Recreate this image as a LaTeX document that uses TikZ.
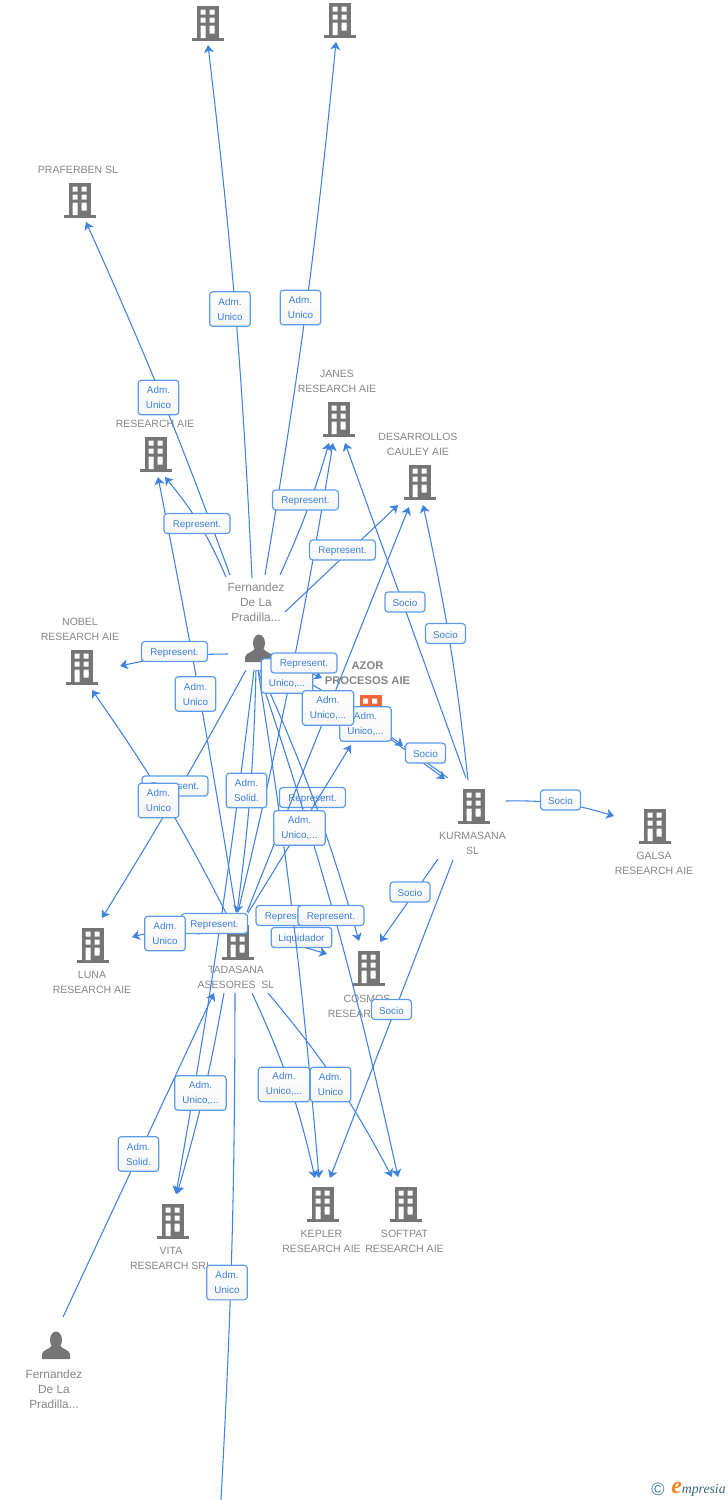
\documentclass[tikz,border=0pt]{standalone}
\usepackage{fontspec}
\setmainfont{Liberation Sans}
\newfontfamily\logofont{Liberation Serif}
\usetikzlibrary{arrows.meta}
\definecolor{linkblue}{HTML}{3F82E0}
\definecolor{boxedge}{HTML}{5B9BE8}
\definecolor{boxtext}{HTML}{3B7FDC}
\definecolor{bldgray}{HTML}{757575}
\definecolor{azororange}{HTML}{F4663A}
\definecolor{labelgray}{HTML}{858585}
\definecolor{logoblue}{HTML}{3F7F9B}
\definecolor{logoorange}{HTML}{F08A1D}
\tikzset{
  link/.style={draw=linkblue,line width=0.8pt,-{Stealth[length=5.8pt,width=7.5pt,inset=1.6pt]}},
  bare/.style={draw=linkblue,line width=0.8pt},
  tag/.style={draw=boxedge,line width=0.9pt,rounded corners=2.4pt,top color=white,bottom color=black!4,
    text=boxtext,inner sep=0pt,align=center,execute at begin node={\rule{0pt}{7pt}},font=\fontsize{7.4}{11.25}\selectfont},
  repbox/.style={tag,minimum width=49.5pt,minimum height=15pt},
  sociobox/.style={tag,minimum width=30pt,minimum height=15pt},
  liqbox/.style={tag,minimum width=45.5pt,minimum height=15pt},
  admbox/.style={tag,minimum width=30.5pt,minimum height=26pt},
  unibox/.style={tag,minimum width=38.5pt,minimum height=26pt},
  entname/.style={text=labelgray,inner sep=0pt,align=center,yshift=-0.75pt,font=\fontsize{7.9}{11.25}\selectfont},
  manname/.style={entname,font=\fontsize{8.9}{11.25}\selectfont},
  pics/bldg/.style={code={
    \fill[#1] (-11,-16) rectangle (11,16);
    \fill[#1] (-16,16) rectangle (16,18.5);
    \fill[white] (-7.5,-12.3) rectangle (-2.5,-7.3) (1.5,-12.3) rectangle (6.5,-7.3);
    \fill[white] (-7.5,-4.3) rectangle (-2.5,0.7) (1.5,-4.3) rectangle (6.5,0.7);
    \fill[white] (-7.5,3.5) rectangle (-2.5,8.5) (1.5,3.5) rectangle (6.5,8.5);
    \fill[white] (-7.5,7.7) rectangle (-2.5,16) (1.5,6.7) rectangle (6.5,11.7);
  }},
  pics/manicon/.style={code={
    \fill[bldgray] (0,-6) ellipse (6 and 8.5);
    \fill[bldgray] (-14,13) -- (-14,8) .. controls (-13,3) and (-6,4) .. (-4,-1) -- (4,-1)
      .. controls (6,4) and (13,3) .. (14,8) -- (14,13) -- cycle;
  }}
}
\begin{document}
\begin{tikzpicture}[x=0.75pt,y=-0.75pt]
  \useasboundingbox (0,0) rectangle (728,1500);

  \path (208,22) pic {bldg=bldgray};
  \path (340,19) pic {bldg=bldgray};
  \path (80,199) pic {bldg=bldgray};
  \path (156,453) pic {bldg=bldgray};
  \path (339,418) pic {bldg=bldgray};
  \path (420,481) pic {bldg=bldgray};
  \path (82,666) pic {bldg=bldgray};
  \path (370.5,711) pic {bldg=azororange};
  \path (474,805) pic {bldg=bldgray};
  \path (655,825) pic {bldg=bldgray};
  \path (93,944) pic {bldg=bldgray};
  \path (238,941) pic {bldg=bldgray};
  \path (369,967) pic {bldg=bldgray};
  \path (323,1203) pic {bldg=bldgray};
  \path (406,1203) pic {bldg=bldgray};
  \path (173,1220) pic {bldg=bldgray};
  \path (259,649) pic {manicon};
  \path (56,1346) pic {manicon};

  \node[entname] (praferben) at (78,169) {PRAFERBEN SL};
  \node[entname] (research) at (155,423) {RESEARCH AIE};
  \node[entname] (janes) at (337,380.5) {JANES\\RESEARCH AIE};
  \node[entname] (desarrollos) at (418,443.5) {DESARROLLOS\\CAULEY AIE};
  \node[entname] (nobel) at (80,628.5) {NOBEL\\RESEARCH AIE};
  \node[entname,font=\fontsize{8.4}{11.25}\selectfont\bfseries] (azor) at (367.5,672.5) {AZOR\\PROCESOS AIE};
  \node[entname] (kurmasana) at (472.5,842.5) {KURMASANA\\SL};
  \node[entname] (galsa) at (654,862.5) {GALSA\\RESEARCH AIE};
  \node[manname] (fernandeza) at (256,601) {Fernandez\\De La\\Pradilla...};
  \node[entname] (luna) at (92,981.5) {LUNA\\RESEARCH AIE};
  \node[entname] (tadasana) at (236,976.5) {TADASANA\\ASESORES\ \ SL};
  \node[entname] (cosmos) at (367,1005.5) {COSMOS\\RESEARCH AIE};
  \node[entname] (kepler) at (321.5,1240.5) {KEPLER\\RESEARCH AIE};
  \node[entname] (softpat) at (404.5,1240.5) {SOFTPAT\\RESEARCH AIE};
  \node[entname] (vita) at (171,1257.5) {VITA\\RESEARCH SRL};
  \node[manname] (fernandezb) at (54,1388) {Fernandez\\De La\\Pradilla...};

  \coordinate (tcos) at (280,940); \coordinate (ycos) at (327,954);
  \draw[link] (tcos) -- (ycos);
  \node[liqbox] (liqa) at (301.5,937.5) {Liquidador};
  \node[repbox] (repg) at (312.5,797.5) {Represent.};

  \coordinate (atop) at (252,578); \coordinate (ztop) at (208,45);
  \coordinate (btop) at (265,575); \coordinate (ytop) at (336,42);
  \coordinate (apra) at (230,575); \coordinate (zpra) at (86,222);
  \coordinate (ares) at (226,577); \coordinate (zres) at (165,477);
  \coordinate (tres) at (236,912); \coordinate (yres) at (158,477);
  \coordinate (ajan) at (280,575); \coordinate (zjan) at (329,443);
  \coordinate (tjan) at (238,912); \coordinate (yjan) at (333,443);
  \coordinate (kjan) at (466,778); \coordinate (xjan) at (345,443);
  \coordinate (ades) at (285,612); \coordinate (zdes) at (398,505);
  \coordinate (tdes) at (247,912); \coordinate (ydes) at (409,507);
  \coordinate (kdes) at (468,780); \coordinate (xdes) at (423,505);
  \coordinate (anob) at (228,654); \coordinate (znob) at (120,666);
  \coordinate (tnob) at (226,913); \coordinate (ynob) at (92,690);
  \coordinate (alun) at (246,670); \coordinate (zlun) at (102,918);
  \coordinate (tlun) at (200,934); \coordinate (ylun) at (132,937);
  \coordinate (avit) at (254,670); \coordinate (zvit) at (176,1194);
  \coordinate (tvit) at (224,993); \coordinate (yvit) at (177,1194);
  \coordinate (atad) at (256,670); \coordinate (ztad) at (237,913);
  \coordinate (ftad) at (63,1317); \coordinate (ytad) at (214,993);
  \coordinate (akep) at (258,670); \coordinate (zkep) at (319,1178);
  \coordinate (tkep) at (252,993); \coordinate (ykep) at (315,1178);
  \coordinate (kkep) at (453,860); \coordinate (xkep) at (330,1178);
  \coordinate (asof) at (258,670); \coordinate (zsof) at (398,1177);
  \coordinate (tsof) at (268,993); \coordinate (ysof) at (392,1177);
  \coordinate (acos) at (260,670); \coordinate (zcos) at (359,941);
  \coordinate (kcos) at (438,859); \coordinate (xcos) at (380,942);
  \coordinate (tazo) at (248,913); \coordinate (zazo) at (351,745);
  \coordinate (aazo) at (300,668); \coordinate (yazo) at (322,678);
  \coordinate (bazo) at (270,662); \coordinate (xazo) at (403,746);
  \coordinate (kazo) at (448,778); \coordinate (wazo) at (404,746);
  \coordinate (okur) at (385,735); \coordinate (zkur) at (445,779);
  \coordinate (kgal) at (506,801); \coordinate (zgal) at (614,816);
  \coordinate (tout) at (235,993); \coordinate (zout) at (221,1500);

  \draw[link] (atop) to[bend right=2] (ztop);
  \draw[link] (btop) to[bend right=2] (ytop);
  \draw[link] (apra) to[bend right=2] (zpra);
  \draw[link] (ares) to[bend right=8] (zres);
  \draw[link] (tres) to[bend right=1] (yres);
  \draw[link] (ajan) to[bend right=4] (zjan);
  \draw[link] (tjan) to[bend right=2] (yjan);
  \draw[link] (kjan) -- (xjan);
  \draw[link] (ades) -- (zdes);
  \draw[link] (tdes) -- (ydes);
  \draw[link] (kdes) to[bend right=3] (xdes);
  \draw[link] (anob) to[bend right=6] (znob);
  \draw[link] (tnob) to[bend right=4] (ynob);
  \draw[link] (alun) to[bend left=1.5] (zlun);
  \draw[link] (tlun) to[bend right=12] (ylun);
  \draw[link] (avit) to[bend left=1.5] (zvit);
  \draw[link] (tvit) to[bend left=3] (yvit);
  \draw[link] (atad) to[bend left=3] (ztad);
  \draw[link] (ftad) -- (ytad);
  \draw[link] (akep) to[bend left=2] (zkep);
  \draw[link] (tkep) to[bend left=6] (ykep);
  \draw[link] (kkep) -- (xkep);
  \draw[link] (asof) to[bend left=3] (zsof);
  \draw[link] (tsof) to[bend left=6] (ysof);
  \draw[link] (acos) to[bend left=4] (zcos);
  \draw[link] (kcos) -- (xcos);
  \draw[link] (tazo) -- (zazo);
  \draw[link] (aazo) -- (yazo);
  \draw[link] (bazo) to[bend left=5] (xazo);
  \draw[link] (kazo) -- (wazo);
  \draw[link] (okur) -- (zkur);
  \draw[link] (kgal) to[bend left=9] (zgal);
  \draw[bare] (tout) to[bend left=1.5] (zout);

  \node[admbox] (adma) at (230,309) {Adm.\\Unico};
  \node[admbox] (admb) at (300.5,307.5) {Adm.\\Unico};
  \node[admbox] (admc) at (158.5,397.5) {Adm.\\Unico};
  \node[repbox] (repa) at (197,523.5) {Represent.};
  \node[repbox] (repb) at (305.5,500) {Represent.};
  \node[repbox] (repc) at (342.5,550) {Represent.};
  \node[sociobox] (socioa) at (405,602) {Socio};
  \node[sociobox] (sociob) at (445.5,633.5) {Socio};
  \node[repbox] (repd) at (174.5,651.5) {Represent.};
  \node[admbox] (admd) at (195.5,694) {Adm.\\Unico};
  \node[unibox] (unia) at (287,676) {Adm.\\Unico,...};
  \node[repbox] (repe) at (304,663) {Represent.};
  \node[unibox] (unib) at (365.5,724) {Adm.\\Unico,...};
  \node[unibox] (unic) at (328,708) {Adm.\\Unico,...};
  \node[sociobox] (socioc) at (425.5,753) {Socio};
  \node[repbox] (repf) at (175,786) {Represent.};
  \node[admbox] (adme) at (158.5,800.5) {Adm.\\Unico};
  \node[admbox] (solida) at (246.5,790.5) {Adm.\\Solid.};
  \node[unibox] (unid) at (299.5,828) {Adm.\\Unico,...};
  \node[sociobox] (sociod) at (560.5,800) {Socio};
  \node[sociobox] (socioe) at (410,892) {Socio};
  \node[repbox] (reph) at (289,915.5) {Represent.};
  \node[repbox] (repi) at (331,915.5) {Represent.};
  \node[repbox] (repj) at (214.5,923.5) {Represent.};
  \node[admbox] (admf) at (165,933.5) {Adm.\\Unico};
  \node[sociobox] (sociof) at (391.5,1009.5) {Socio};
  \node[unibox] (unie) at (200.5,1093) {Adm.\\Unico,...};
  \node[unibox] (unif) at (284,1084.5) {Adm.\\Unico,...};
  \node[admbox] (admg) at (330.5,1084.5) {Adm.\\Unico};
  \node[admbox] (solidb) at (138.5,1154) {Adm.\\Solid.};
  \node[admbox] (admh) at (227,1282.5) {Adm.\\Unico};

  \node[inner sep=0pt,text=logoblue,font=\fontsize{13.5}{13.5}\selectfont] (logoc) at (658,1489) {©};
  \node[inner sep=0pt,anchor=base west,text=logoblue!80!black,font=\logofont\itshape\fontsize{10.3}{11}\selectfont] (logot) at (671,1493)
    {{\color{logoorange}\fontsize{18}{18}\selectfont\bfseries e}mpresia};
\end{tikzpicture}
\end{document}
